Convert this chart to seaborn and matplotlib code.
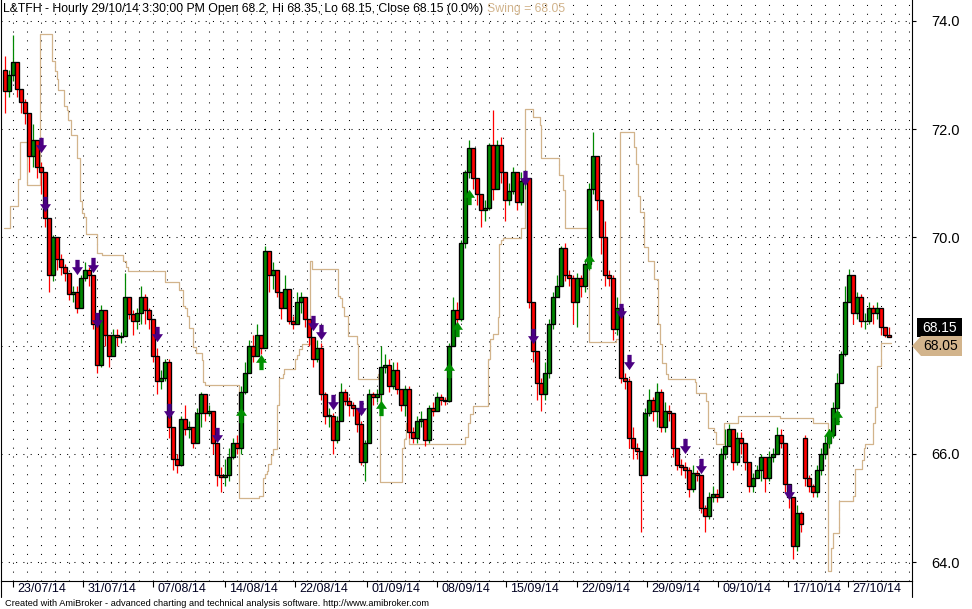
import numpy as np
import pandas as pd
import matplotlib
matplotlib.use("Agg")
import matplotlib.pyplot as plt
import matplotlib.transforms as mtransforms
from matplotlib.path import Path
from matplotlib.patches import Polygon, Rectangle
from matplotlib.lines import Line2D
import seaborn as sns

# --- price bars (one bar per ~2 hours) ---
first_open = 73.10
gap_opens = {200: 66.30}

closes = [
    72.70, 73.00, 73.25, 72.75, 72.50, 72.30, 71.50, 71.80, 71.30, 71.20,
    70.35, 69.30, 70.00, 69.60, 69.45, 69.35, 68.95, 69.00, 68.70, 69.25,
    69.40, 69.30, 68.40, 67.65, 68.65, 68.20, 67.80, 68.20, 68.15, 68.18,
    68.90, 68.58, 68.45, 68.60, 68.90, 68.65, 68.50, 67.80, 67.35, 67.40,
    67.70, 66.50, 65.90, 65.80, 66.65, 66.45, 66.50, 66.20, 66.75, 67.10,
    66.75, 66.80, 66.20, 65.60, 65.58, 65.60, 65.95, 66.20, 66.10, 67.15,
    67.50, 68.00, 67.80, 68.20, 67.95, 69.75, 69.30, 69.40, 69.00, 68.70,
    69.05, 68.45, 68.40, 68.80, 68.90, 68.50, 68.15, 67.75, 67.95, 67.10,
    66.70, 66.70, 66.25, 66.60, 67.15, 66.97, 66.90, 66.85, 66.55, 65.85,
    66.20, 67.10, 67.05, 67.10, 67.60, 67.65, 67.25, 67.55, 67.20, 66.90,
    67.20, 66.40, 66.30, 66.60, 66.65, 66.25, 66.85, 66.80, 67.05, 67.00,
    66.97, 68.00, 68.65, 68.50, 69.90, 71.20, 71.65, 71.10, 70.80, 70.50,
    70.55, 71.70, 70.90, 71.70, 71.20, 70.70, 70.85, 71.20, 70.65, 71.05,
    71.10, 68.80, 67.90, 67.30, 67.10, 67.50, 68.40, 68.90, 69.10, 69.80,
    69.30, 69.25, 68.80, 69.25, 69.10, 69.50, 70.90, 71.50, 70.70, 70.00,
    69.30, 69.25, 68.30, 68.70, 67.40, 67.35, 66.30, 66.10, 66.05, 65.60,
    66.75, 67.00, 66.80, 67.15, 66.50, 66.80, 66.75, 66.10, 65.80, 65.75,
    65.70, 65.35, 65.65, 65.60, 65.00, 64.85, 65.20, 65.25, 65.20, 66.00,
    66.15, 66.45, 65.85, 66.30, 66.20, 65.85, 65.40, 65.55, 65.70, 65.95,
    65.55, 65.95, 66.00, 66.35, 66.20, 65.45, 65.20, 64.30, 64.90, 64.70,
    65.55, 65.40, 65.30, 65.70, 66.00, 66.20, 66.35, 66.85, 67.30, 67.85,
    68.80, 69.30, 68.60, 68.90, 68.45, 68.45, 68.70, 68.60, 68.70, 68.35,
    68.20, 68.15,
]
highs = [
    73.35, 73.10, 73.75, 73.10, 72.75, 72.55, 72.20, 72.10, 71.80, 71.40,
    71.20, 70.30, 70.05, 70.00, 69.70, 69.50, 69.35, 69.10, 69.10, 69.30,
    69.55, 69.45, 69.30, 68.45, 68.75, 68.65, 68.20, 68.30, 68.30, 68.25,
    69.35, 68.90, 68.65, 68.70, 69.10, 68.95, 68.70, 68.50, 67.95, 67.55,
    67.75, 67.75, 66.30, 66.00, 66.70, 66.90, 66.60, 66.50, 66.85, 67.15,
    67.10, 66.90, 66.80, 66.20, 65.75, 65.90, 66.10, 66.30, 66.35, 67.25,
    67.70, 68.10, 68.20, 68.40, 68.20, 69.85, 69.60, 69.55, 69.30, 69.00,
    69.30, 69.05, 68.55, 69.00, 69.00, 68.90, 68.50, 68.10, 68.10, 68.05,
    67.15, 66.85, 66.75, 66.70, 67.30, 67.20, 67.05, 66.95, 66.85, 66.60,
    66.25, 67.20, 67.15, 67.20, 68.00, 67.85, 67.75, 67.70, 67.70, 67.20,
    67.25, 67.25, 66.50, 66.70, 66.80, 66.65, 66.90, 66.95, 67.15, 67.10,
    67.05, 68.05, 68.90, 68.80, 69.95, 71.25, 71.80, 71.65, 71.10, 70.80,
    70.70, 71.75, 72.35, 71.80, 71.85, 71.20, 71.00, 71.30, 71.20, 71.20,
    71.25, 71.10, 68.30, 67.90, 67.40, 67.70, 68.50, 69.00, 69.30, 69.85,
    69.90, 69.40, 69.30, 69.35, 69.30, 69.60, 71.00, 71.95, 71.50, 70.70,
    70.30, 69.40, 69.30, 68.90, 68.50, 67.50, 67.40, 66.50, 66.20, 66.00,
    66.85, 67.20, 67.05, 67.30, 67.20, 66.95, 66.90, 66.75, 66.10, 65.90,
    65.85, 65.75, 65.80, 65.70, 65.60, 65.05, 65.30, 65.40, 65.35, 66.10,
    66.45, 66.55, 66.45, 66.40, 66.40, 66.20, 65.85, 65.65, 65.80, 66.00,
    65.95, 66.05, 66.10, 66.50, 66.45, 66.20, 65.45, 65.05, 65.05, 64.95,
    66.35, 65.60, 65.45, 65.80, 66.10, 66.35, 66.45, 66.95, 67.50, 67.90,
    69.10, 69.41, 69.30, 69.00, 68.95, 68.60, 68.80, 68.75, 68.80, 68.65,
    68.35, 68.35,
]
lows = [
    72.30, 72.60, 72.90, 72.60, 72.30, 72.10, 71.20, 71.30, 71.10, 70.80,
    70.20, 69.00, 69.20, 69.40, 69.30, 69.20, 68.85, 68.80, 68.60, 68.70,
    69.20, 69.10, 68.30, 67.50, 67.60, 68.00, 67.60, 67.80, 68.00, 68.05,
    68.20, 68.50, 68.20, 68.30, 68.40, 68.40, 68.30, 67.70, 67.10, 67.20,
    67.35, 66.30, 65.70, 65.65, 65.80, 66.35, 66.30, 66.10, 66.20, 66.50,
    66.60, 66.70, 66.00, 65.40, 65.30, 65.40, 65.50, 65.90, 66.00, 66.00,
    67.10, 67.50, 67.70, 67.80, 67.85, 67.95, 69.00, 69.05, 68.90, 68.50,
    68.70, 68.40, 68.30, 68.40, 68.60, 68.35, 68.00, 67.60, 67.70, 67.00,
    66.55, 66.50, 66.00, 66.20, 66.60, 66.90, 66.70, 66.70, 66.40, 65.80,
    65.50, 66.30, 66.90, 66.95, 66.90, 67.50, 67.15, 67.20, 67.10, 66.80,
    66.70, 66.30, 66.20, 66.20, 66.50, 66.15, 66.20, 66.70, 66.80, 66.90,
    66.90, 66.95, 68.00, 68.40, 68.45, 69.80, 71.10, 70.90, 70.60, 70.20,
    70.30, 70.50, 70.70, 70.90, 71.00, 70.30, 70.60, 70.80, 70.50, 70.60,
    70.90, 68.70, 67.70, 67.00, 66.80, 67.00, 67.40, 68.30, 68.90, 69.10,
    69.20, 69.10, 68.40, 68.35, 68.90, 69.00, 69.40, 70.80, 70.50, 69.70,
    69.10, 69.10, 68.10, 68.20, 67.30, 67.20, 66.10, 65.90, 65.90, 64.55,
    65.60, 66.70, 66.60, 66.50, 66.40, 66.40, 66.60, 65.95, 65.70, 65.60,
    65.55, 65.20, 65.30, 65.50, 64.90, 64.55, 64.80, 65.10, 65.10, 65.30,
    65.90, 66.30, 65.70, 65.80, 66.00, 65.70, 65.30, 65.30, 65.55, 65.50,
    65.30, 65.50, 65.85, 66.00, 66.10, 65.30, 65.00, 64.05, 64.20, 64.55,
    65.40, 65.30, 65.20, 65.20, 65.60, 65.90, 66.10, 66.30, 66.80, 67.30,
    67.80, 68.80, 68.40, 68.50, 68.35, 68.30, 68.40, 68.40, 68.50, 68.20,
    68.15, 68.15,
]

# swing (trailing stop) step line: bar where each level starts
swing_start = [
    -0.25, 1.25, 3.25, 3.75, 5.5, 8.75, 11.75, 12.5, 13.0, 13.25,
    14.75, 15.5, 15.75, 16.5, 18.0, 18.75, 19.25, 19.75, 20.25, 23.0,
    24.25, 29.5, 30.25, 30.75, 40.0, 43.5, 44.5, 45.0, 45.5, 46.0,
    47.0, 47.75, 49.25, 49.5, 50.0, 58.5, 63.5, 64.5, 65.0, 65.5,
    65.75, 66.5, 67.0, 68.0, 68.5, 69.5, 69.75, 72.5, 73.0, 73.5,
    74.25, 76.25, 76.75, 83.25, 83.75, 84.25, 84.75, 85.75, 88.0, 88.25,
    93.25, 93.75, 99.25, 99.75, 100.25, 101.0, 115.0, 115.75, 116.25, 117.0,
    120.75, 121.25, 122.0, 123.25, 123.5, 124.0, 124.5, 129.0, 130.0, 132.0,
    133.75, 134.0, 138.5, 139.5, 140.0, 146.0, 152.75, 153.75, 157.25, 157.75,
    158.25, 158.75, 159.75, 160.75, 162.25, 163.25, 163.75, 164.25, 165.25, 165.75,
    172.5, 172.75, 175.25, 175.75, 177.25, 177.75, 179.75, 183.25, 193.75, 202.0,
    205.75, 206.5, 207.0, 208.5, 212.0, 212.5, 214.25, 214.75, 215.0, 217.0,
    217.5, 218.0, 219.0,
]
swing_level = [
    70.17, 70.58, 71.08, 71.76, 70.96, 73.76, 73.26, 73.08, 72.92, 72.73,
    72.43, 72.36, 72.17, 71.90, 71.46, 70.67, 70.45, 70.37, 70.07, 69.72,
    69.67, 69.56, 69.45, 69.38, 69.17, 69.03, 68.74, 68.69, 68.55, 68.32,
    67.98, 67.87, 67.73, 67.32, 67.27, 65.19, 65.22, 65.55, 65.62, 65.68,
    65.82, 65.98, 66.08, 66.90, 67.40, 67.47, 67.56, 67.76, 67.83, 67.93,
    68.03, 69.56, 69.41, 68.92, 68.88, 68.72, 68.55, 68.17, 68.03, 67.38,
    67.47, 65.47, 66.11, 66.28, 66.57, 66.18, 66.31, 66.57, 66.74, 66.88,
    67.76, 68.13, 68.22, 68.53, 69.87, 69.96, 69.99, 70.17, 72.38, 72.23,
    72.07, 71.46, 71.16, 70.88, 70.17, 68.06, 68.13, 71.95, 71.68, 71.36,
    70.77, 70.47, 69.82, 69.56, 69.23, 68.40, 68.03, 67.68, 67.47, 67.39,
    67.32, 67.12, 66.97, 66.48, 66.41, 66.18, 66.57, 66.70, 66.67, 66.57,
    63.84, 64.26, 64.53, 65.12, 65.22, 65.72, 65.88, 66.11, 66.18, 66.57,
    66.87, 67.63, 68.05,
]

# sell / buy signal arrows
sell_bar = [9, 10, 18, 22, 23, 38, 41, 53, 77, 79, 82, 89, 130, 132, 154, 156, 170, 174, 196]
sell_price = [71.71, 70.62, 69.46, 69.49, 68.47, 68.21, 66.79, 66.34, 68.41, 68.26,
              66.95, 66.85, 71.10, 68.18, 68.64, 67.70, 66.14, 65.77, 65.30]
buy_bar = [59, 64, 94, 111, 113, 116, 146, 206, 208]
buy_price = [66.71, 67.70, 66.84, 67.55, 68.30, 70.74, 69.56, 66.33, 66.68]

# date axis
date_pos = [2.0, 19.5, 37.0, 55.0, 72.5, 90.5, 108.0, 125.25, 143.0, 160.5, 178.25, 195.75, 210.75]
date_labels = ["23/07/14", "31/07/14", "07/08/14", "14/08/14", "22/08/14", "01/09/14",
               "08/09/14", "15/09/14", "22/09/14", "29/09/14", "09/10/14", "17/10/14", "27/10/14"]
price_ticks = [64, 66, 68, 70, 72, 74]

title_main = ("L&TFH - Hourly 29/10/14 3:30:00 PM Open 68.2, Hi 68.35, "
              "Lo 68.15, Close 68.15 (0.0%)")
title_swing = "Swing = 68.05"
footer = ("Created with AmiBroker - advanced charting and technical analysis "
          "software. http://www.amibroker.com")

TAN = "#D2B48C"
UP = "#008800"
DN = "#ff0000"
PURPLE = "#4B0082"

# --- build bar table ---
n = min(len(closes), len(highs), len(lows))
opens = [first_open] + closes[: n - 1]
for k, v in gap_opens.items():
    if k < n:
        opens[k] = v
df = pd.DataFrame({"bar": np.arange(n), "open": opens, "high": highs[:n],
                   "low": lows[:n], "close": closes[:n]})
df["up"] = df["close"] >= df["open"]

sns.set_theme(style="white")
plt.rcParams["font.family"] = ["Liberation Sans", "DejaVu Sans"]

W, H = 972, 609
fig = plt.figure(figsize=(W / 100, H / 100), dpi=100)
fig.patch.set_facecolor("white")
ax = fig.add_axes([1 / W, (H - 581) / H, 911 / W, 581 / H])
ax.set_facecolor("white")
ax.set_xlim(-1, 226.75)
ax.set_ylim(63.649, 74.388)

# dotted grid
ymin, ymax = ax.get_ylim()
xmin, xmax = ax.get_xlim()
day_lines = np.arange(2.0, xmax, 3.5)
ax.vlines(day_lines, ymin, ymax, colors="black", linestyles=(0, (1, 7.5)),
          linewidth=0.75, zorder=0.5)
ax.hlines(price_ticks, xmin, xmax, colors="black", linestyles=(0, (1, 6)),
          linewidth=0.75, zorder=0.5)

# swing line
sw = pd.DataFrame({"bar": swing_start + [n - 0.5],
                   "level": swing_level + [swing_level[-1]]})
sns.lineplot(data=sw, x="bar", y="level", drawstyle="steps-post", color=TAN,
             linewidth=0.9, estimator=None, sort=False, ax=ax, zorder=1)

# candles
wick_col = np.where(df["up"], UP, DN)
ax.vlines(df["bar"], df["low"], df["high"], colors=wick_col, linewidth=0.9, zorder=2)
body_lo = np.minimum(df["open"], df["close"])
body_h = np.maximum((df["close"] - df["open"]).abs(), 0.012)
ax.bar(df["bar"], body_h, bottom=body_lo, width=0.85, color=wick_col,
       edgecolor="black", linewidth=0.95, zorder=3)

# arrows
down_arrow = Path([(-0.14, 0.5), (0.14, 0.5), (0.14, 0.02), (0.36, 0.02), (0, -0.5),
                   (-0.36, 0.02), (-0.14, 0.02), (-0.14, 0.5)],
                  [Path.MOVETO] + [Path.LINETO] * 6 + [Path.CLOSEPOLY])
up_arrow = Path([(x, -y) for x, y in down_arrow.vertices], down_arrow.codes)
ax.plot(sell_bar, sell_price, linestyle="none", marker=down_arrow, markersize=11,
        color=PURPLE, markeredgewidth=0, zorder=4)
ax.plot(buy_bar, buy_price, linestyle="none", marker=up_arrow, markersize=11,
        color="#009000", markeredgewidth=0, zorder=4)

# axes / spines
for side in ["left", "right", "bottom"]:
    ax.spines[side].set_visible(True)
    ax.spines[side].set_color("black")
    ax.spines[side].set_linewidth(0.8)
ax.spines["top"].set_visible(False)
ax.grid(False)

ax.yaxis.tick_right()
ax.set_yticks(price_ticks)
ax.set_yticklabels([f"{v:.1f}" for v in price_ticks])
ax.tick_params(axis="y", right=True, left=False, length=3, width=0.8, pad=11,
               labelsize=10.5, colors="black")
ax.set_xticks(date_pos)
ax.set_xticklabels([])
ax.tick_params(axis="x", bottom=True, length=4.5, width=0.8, direction="out", colors="black")
for p, lab in zip(date_pos, date_labels):
    ax.annotate(lab, xy=(p, 0), xycoords=("data", "axes fraction"), xytext=(3, -1.5),
                textcoords="offset points", ha="left", va="top", fontsize=9,
                color="#000020", annotation_clip=False)
ax.set_xlabel("")
ax.set_ylabel("")

# pixel transform (origin top-left)
pix = mtransforms.Affine2D().scale(1 / W, -1 / H).translate(0, 1) + fig.transFigure

# axis lines run a little below the date axis
fig.lines.append(Line2D([912, 912], [581, 597], transform=pix, color="black", linewidth=0.8))
fig.lines.append(Line2D([1, 1], [581, 597], transform=pix, color="black", linewidth=0.8))

# last price / swing value markers on the right axis
fig.patches.append(Rectangle((917, 318), 45, 19, transform=pix, facecolor="black",
                             edgecolor="none", zorder=5))
fig.text(939.5, 327.5, "68.15", transform=pix, ha="center", va="center",
         color="white", fontsize=10, zorder=6)
fig.patches.append(Polygon([(912, 346), (921, 336), (962, 336), (962, 356), (921, 356)],
                           closed=True, transform=pix, facecolor=TAN, edgecolor="none",
                           zorder=5))
fig.text(941, 346.5, "68.05", transform=pix, ha="center", va="center",
         color="black", fontsize=10, zorder=6)

# title and footer, fitted to their width in the reference
renderer = fig.canvas.get_renderer()
t1 = fig.text(3, 9, title_main, transform=pix, ha="left", va="center", fontsize=9,
              color="black")
w1 = t1.get_window_extent(renderer).width
t1.set_fontsize(9 * 480 / w1)
e1 = t1.get_window_extent(renderer)
fig.text(e1.x1 + 4, 9, title_swing, transform=pix, ha="left", va="center",
         fontsize=9 * 480 / w1, color=TAN)

t3 = fig.text(5, 603, footer, transform=pix, ha="left", va="center", fontsize=7,
              color="black")
w3 = t3.get_window_extent(renderer).width
t3.set_fontsize(7 * 423 / w3)

fig.savefig("out.png", dpi=100, facecolor="white")
